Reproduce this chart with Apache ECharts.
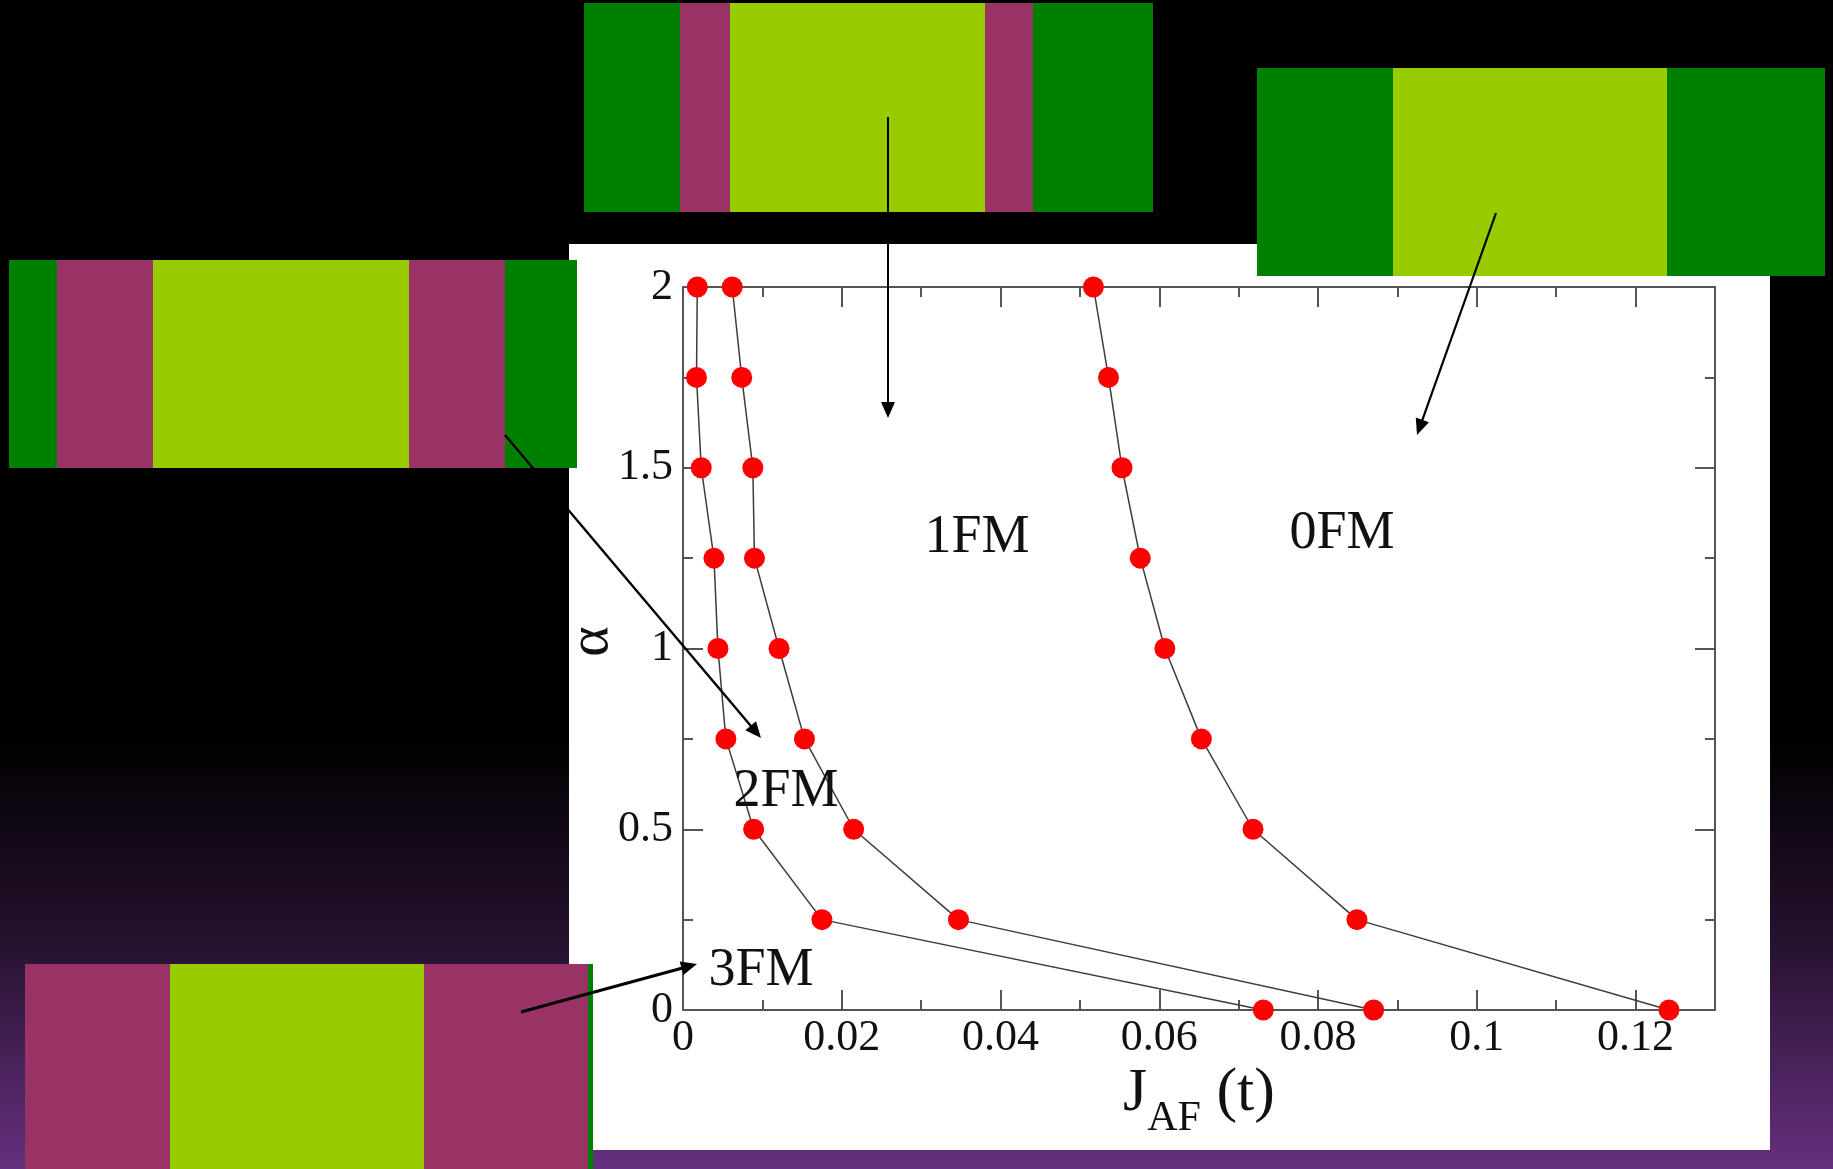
<!DOCTYPE html>
<html>
<head>
<meta charset="utf-8">
<title>Phase diagram: alpha vs J_AF</title>
<script src="https://cdn.jsdelivr.net/npm/echarts@6/dist/echarts.min.js"></script>
<style>
  html, body { margin: 0; padding: 0; background: #000; }
  #chart { width: 1833px; height: 1169px; }
</style>
</head>
<body>
<div id="chart"></div>
<script>
// ---- data -------------------------------------------------------------
// alpha values shared by every phase boundary
const alphaValues = [0, 0.25, 0.5, 0.75, 1, 1.25, 1.5, 1.75, 2];
// J_AF (in units of t) at the 3FM / 2FM boundary
const boundary3FM2FM = [0.0731, 0.0175, 0.0089, 0.0054, 0.0044, 0.0039, 0.0023, 0.0017, 0.0018];
// J_AF at the 2FM / 1FM boundary
const boundary2FM1FM = [0.0870, 0.0347, 0.0215, 0.0153, 0.0121, 0.0090, 0.0088, 0.0074, 0.0062];
// J_AF at the 1FM / 0FM boundary
const boundary1FM0FM = [0.1242, 0.0849, 0.0718, 0.0653, 0.0607, 0.0576, 0.0553, 0.0536, 0.0517];
// phase names written inside the diagram
const phaseNames = ['0FM', '1FM', '2FM', '3FM'];

// ---- styling / layout -------------------------------------------------
const FONT = '"Liberation Serif", "Times New Roman", serif';
const GREEN = '#008000', MAGENTA = '#993366', LIME = '#99cc00';
const AXIS_COLOR = '#555';
const W = 1833, H = 1169;
const GRID = { left: 683, top: 287, right: 118, bottom: 159 };

// spin-configuration strips drawn around the diagram
const strips = [
  { y: 3,   h: 209, parts: [[584, 680, GREEN], [680, 730, MAGENTA], [730, 985, LIME], [985, 1033, MAGENTA], [1033, 1153, GREEN]] },
  { y: 68,  h: 208, parts: [[1257, 1393, GREEN], [1393, 1667, LIME], [1667, 1825, GREEN]] },
  { y: 260, h: 208, parts: [[9, 57, GREEN], [57, 153, MAGENTA], [153, 409, LIME], [409, 505, MAGENTA], [505, 577, GREEN]] },
  { y: 964, h: 205, parts: [[25, 170, MAGENTA], [170, 424, LIME], [424, 588, MAGENTA], [588, 593, GREEN]] }
];

// pointers from each strip to its phase region: [x1, y1, x2, y2, width]
const pointers = [
  [888, 117, 888, 418, 2],
  [1496, 213, 1417, 435, 2.2],
  [505, 435, 761, 738, 2.4],
  [521, 1012, 697, 964, 3]
];
// label anchor for each phase name
const phaseLabelPos = { '0FM': [1342, 534], '1FM': [977, 538], '2FM': [786, 792], '3FM': [761, 971] };

function arrow(p) {
  const [x1, y1, x2, y2, w] = p;
  const dx = x2 - x1, dy = y2 - y1, L = Math.hypot(dx, dy);
  const ux = dx / L, uy = dy / L, hl = 16, hw = 7;
  const bx = x2 - ux * hl, by = y2 - uy * hl;
  return [
    { type: 'line', z: 100, shape: { x1: x1, y1: y1, x2: bx + ux * 2, y2: by + uy * 2 },
      style: { stroke: '#000', lineWidth: w } },
    { type: 'polygon', z: 100,
      shape: { points: [[x2, y2], [bx - uy * hw, by + ux * hw], [bx + uy * hw, by - ux * hw]] },
      style: { fill: '#000' } }
  ];
}

const graphics = [];
// slide background: black fading into purple at the bottom
graphics.push({
  type: 'rect', z: -20, shape: { x: 0, y: 0, width: W, height: H },
  style: { fill: new echarts.graphic.LinearGradient(0, 0, 0, 1, [
    { offset: 0, color: '#000000' },
    { offset: 0.63, color: '#000000' },
    { offset: 0.8, color: '#24112d' },
    { offset: 1, color: '#65307f' }
  ]) }
});
// white panel behind the plot
graphics.push({ type: 'rect', z: -15, shape: { x: 569, y: 244, width: 1201, height: 906 }, style: { fill: '#fff' } });
strips.forEach(s => s.parts.forEach(([x0, x1, c]) => {
  graphics.push({ type: 'rect', z: -10, shape: { x: x0, y: s.y, width: x1 - x0, height: s.h }, style: { fill: c } });
}));
pointers.forEach(p => arrow(p).forEach(e => graphics.push(e)));
phaseNames.forEach(name => {
  const [x, y] = phaseLabelPos[name];
  graphics.push({
    type: 'text', z: 90, x: x, y: y,
    style: { text: name, font: '54px ' + FONT, fill: '#111',
             textAlign: 'center', textVerticalAlign: 'middle', align: 'center', verticalAlign: 'middle' }
  });
});

function pairs(xs) { return alphaValues.map((a, i) => [xs[i], a]); }

const labelStyle = { fontFamily: FONT, fontSize: 44, color: '#111' };
const lineStyleAxis = { color: AXIS_COLOR, width: 2 };

function boundarySeries(name, xs) {
  return {
    name: name, type: 'line', xAxisIndex: 0, yAxisIndex: 0,
    data: pairs(xs), symbol: 'circle', symbolSize: 21,
    itemStyle: { color: '#ff0000' },
    lineStyle: { color: '#3c3c3c', width: 1.5 },
    clip: false, z: 5
  };
}

const option = {
  animation: false,
  graphic: { elements: graphics },
  grid: [
    Object.assign({ containLabel: false }, GRID),
    Object.assign({ containLabel: false }, GRID)
  ],
  xAxis: [
    { // bottom axis with major ticks and labels
      type: 'value', gridIndex: 0, position: 'bottom', min: 0, max: 0.13, interval: 0.02,
      axisLine: { show: true, onZero: false, lineStyle: lineStyleAxis },
      axisTick: { show: true, inside: true, length: 20, lineStyle: lineStyleAxis },
      minorTick: { show: false },
      splitLine: { show: false },
      axisLabel: Object.assign({ margin: 6,
        formatter: v => (Math.abs(v / 0.02 - Math.round(v / 0.02)) < 1e-6 ? String(+v.toFixed(2)) : '') }, labelStyle),
      name: '{j|J}{s|AF}{t| (t)}',
      nameLocation: 'middle', nameGap: 53, nameMoveOverlap: false,
      nameTextStyle: {
        fontFamily: FONT, color: '#111',
        rich: {
          j: { fontFamily: FONT, fontSize: 62, lineHeight: 62, verticalAlign: 'top', color: '#111' },
          // subscript: bottom-aligned in a taller line so it drops below the J baseline
          s: { fontFamily: FONT, fontSize: 42, lineHeight: 77, verticalAlign: 'bottom', color: '#111' },
          t: { fontFamily: FONT, fontSize: 62, lineHeight: 62, verticalAlign: 'top', color: '#111' }
        }
      }
    },
    { // mirrored top axis
      type: 'value', gridIndex: 0, position: 'top', min: 0, max: 0.13, interval: 0.02,
      axisLine: { show: true, onZero: false, lineStyle: lineStyleAxis },
      axisTick: { show: true, inside: true, length: 20, lineStyle: lineStyleAxis },
      axisLabel: { show: false }, splitLine: { show: false }
    },
    { // minor ticks every 0.01 along the bottom
      type: 'value', gridIndex: 1, position: 'bottom', min: 0, max: 0.13, interval: 0.01,
      axisLine: { show: false, onZero: false },
      axisTick: { show: true, inside: true, length: 10, lineStyle: lineStyleAxis },
      axisLabel: { show: false }, splitLine: { show: false }
    },
    { // minor ticks every 0.01 along the top
      type: 'value', gridIndex: 1, position: 'top', min: 0, max: 0.13, interval: 0.01,
      axisLine: { show: false, onZero: false },
      axisTick: { show: true, inside: true, length: 10, lineStyle: lineStyleAxis },
      axisLabel: { show: false }, splitLine: { show: false }
    }
  ],
  yAxis: [
    {
      type: 'value', gridIndex: 0, position: 'left', min: 0, max: 2, interval: 0.5,
      axisLine: { show: true, onZero: false, lineStyle: lineStyleAxis },
      axisTick: { show: true, inside: true, length: 20, lineStyle: lineStyleAxis },
      minorTick: { show: true, splitNumber: 2, length: 10, lineStyle: lineStyleAxis },
      splitLine: { show: false }, minorSplitLine: { show: false },
      axisLabel: Object.assign({ margin: 10 }, labelStyle),
      name: 'α', nameLocation: 'middle', nameGap: 62, nameRotate: 90, nameMoveOverlap: false,
      nameTextStyle: { fontFamily: FONT, fontSize: 58, color: '#111', padding: [0, 0, 0, 14] }
    },
    {
      type: 'value', gridIndex: 0, position: 'right', min: 0, max: 2, interval: 0.5,
      axisLine: { show: true, onZero: false, lineStyle: lineStyleAxis },
      axisTick: { show: true, inside: true, length: 20, lineStyle: lineStyleAxis },
      minorTick: { show: true, splitNumber: 2, length: 10, lineStyle: lineStyleAxis },
      splitLine: { show: false }, minorSplitLine: { show: false },
      axisLabel: { show: false }
    },
    {
      type: 'value', gridIndex: 1, min: 0, max: 2, show: false
    }
  ],
  series: [
    boundarySeries('3FM-2FM', boundary3FM2FM),
    boundarySeries('2FM-1FM', boundary2FM1FM),
    boundarySeries('1FM-0FM', boundary1FM0FM)
  ]
};

const chart = echarts.init(document.getElementById('chart'), null, { renderer: 'canvas' });
chart.setOption(option);
</script>
</body>
</html>
